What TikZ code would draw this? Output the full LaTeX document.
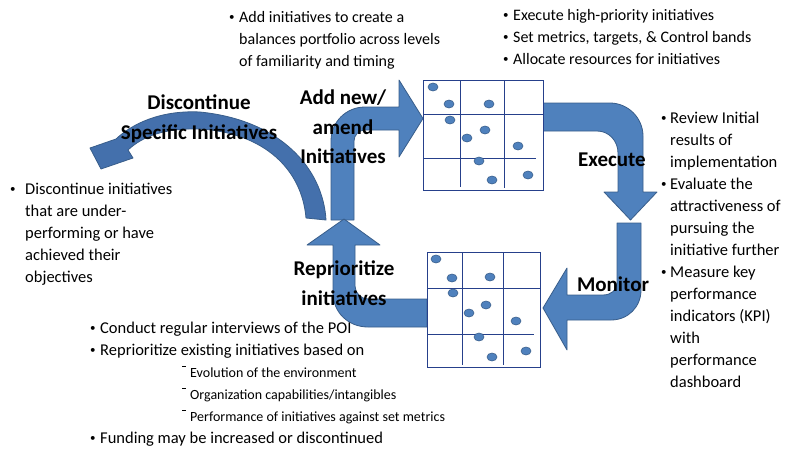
\documentclass[tikz,border=0pt]{standalone}
\usepackage{fontspec}
\setmainfont{Carlito}
\usetikzlibrary{shapes.geometric}
\definecolor{arrowblue}{RGB}{79,129,189}
\definecolor{arrowedge}{RGB}{56,93,138}
\definecolor{curveblue}{RGB}{68,112,172}
\definecolor{gridblue}{RGB}{38,64,139}
\newcommand{\pbul}[1][10pt]{\makebox[#1][l]{\raisebox{0.12em}{\fontsize{11}{11}\selectfont\textbullet}}}
\newcommand{\psubline}[1]{\hspace*{82pt}\makebox[8pt][l]{\raisebox{0.62em}{\rule{4pt}{0.8pt}}}{\fontsize{14}{22}\selectfont #1}}
\begin{document}
\begin{tikzpicture}[x=1pt,y=-1pt,
    block_arrow/.style={fill=arrowblue,draw=arrowedge,line width=0.8pt,line join=round},
    grid_box/.style={draw=gridblue,fill=white,line width=1pt,inner sep=0pt},
    grid_line/.style={draw=gridblue,line width=1pt},
    grid_dot/.style={ellipse,fill=arrowblue,draw=arrowedge,line width=0.6pt,minimum width=10pt,minimum height=8pt,inner sep=0pt},
    step_label/.style={font=\fontsize{21}{29.5}\selectfont\bfseries,align=center,inner sep=0pt},
    bullet_text/.style={font=\fontsize{16.5}{22}\selectfont,inner sep=0pt,anchor=base west}]
    \useasboundingbox (0,0) rectangle (794,450);

    % block arrows of the cycle
    \draw[block_arrow] (331,220) -- (331,141) .. controls (331,122) and (346,107) .. (365,107) -- (399,107) -- (399,80) -- (423,118.5) -- (399,157) -- (399,130) -- (365,130) .. controls (359,130) and (354,135) .. (354,141) -- (354,220) -- cycle;
    \draw[block_arrow] (543,103) -- (610,103) .. controls (628,103) and (643,118) .. (643,136) -- (643,192) -- (657,192) -- (630.5,220) -- (604,192) -- (618,192) -- (618,153) .. controls (618,141) and (609,131) .. (597,131) -- (543,131) -- cycle;
    \draw[block_arrow] (617,223) -- (641,223) -- (641,290) .. controls (641,307) and (628,320) .. (611,320) -- (567,320) -- (567,350) -- (543,308) -- (567,268) -- (567,295) -- (603,295) .. controls (611,295) and (617,290) .. (617,283) -- cycle;
    \draw[block_arrow] (427,299) -- (368,299) .. controls (361,299) and (355,293) .. (355,286) -- (355,245) -- (380,245) -- (344,219) -- (307,245) -- (333,245) -- (333,293) .. controls (333,312) and (348,327) .. (368,327) -- (427,327) -- cycle;
    % curved arrow
    \draw[block_arrow,fill=curveblue] (326,220) .. controls (323,168) and (280,120) .. (200,112) .. controls (160,110) and (132,124) .. (116,139) -- (90,148) -- (101,169) -- (133,158) -- (128,150) .. controls (143,136) and (165,128) .. (200,129) .. controls (265,133) and (302,170) .. (306,218) -- cycle;

    % portfolio grids
    \node[grid_box,minimum width=120pt,minimum height=110pt] (top_grid) at (483,135) {};
    \draw[grid_line] (460,80) -- (460,187) (504,80) -- (504,188) (423,114) -- (543,114) (423,158) -- (536,158);
    \foreach \dx/\dy [count=\i] in {433/87,449/104,489/104,450/120,485/130,467/138,518/146,479/161,492/180,528/175}
        \node[grid_dot] (top_dot\i) at (\dx,\dy) {};
    \node[grid_box,minimum width=113pt,minimum height=115pt] (bot_grid) at (483.5,309.5) {};
    \draw[grid_line] (462,252) -- (462,365) (503,252) -- (503,365) (427,288) -- (540,288) (427,334) -- (534,334);
    \foreach \dx/\dy [count=\i] in {436/259,452/278,490/277,453/293,486/305,469/313,516/321,479/337,492/357,526/351}
        \node[grid_dot] (bot_dot\i) at (\dx,\dy) {};

    % step labels
    \node[step_label] (add_lbl) at (343,127) {Add new/\\amend\\Initiatives};
    \node[step_label] (disc_lbl) at (199,119) {Discontinue\\Specific Initiatives};
    \node[step_label] (exec_lbl) at (612,160) {Execute};
    \node[step_label] (mon_lbl) at (613,284) {Monitor};
    \node[step_label] (repr_lbl) at (344,283) {Reprioritize\\initiatives};

    % bullet texts
    \node[bullet_text,font=\fontsize{16}{22}\selectfont] (add_txt) at (229,22) {\begin{tabular}[t]{@{}l@{}l@{}}
        \pbul & Add initiatives to create a\\
        & balances portfolio across levels\\
        & of familiarity and timing
    \end{tabular}};
    \node[bullet_text,font=\fontsize{16}{22}\selectfont] (exec_txt) at (503,20) {\begin{tabular}[t]{@{}l@{}l@{}}
        \pbul & Execute high-priority initiatives\\
        \pbul & Set metrics, targets, \& Control bands\\
        \pbul & Allocate resources for initiatives
    \end{tabular}};
    \node[bullet_text] (mon_txt) at (661,123) {\begin{tabular}[t]{@{}l@{}l@{}}
        \pbul[9pt] & Review Initial\\
        & results of\\
        & implementation\\
        \pbul[9pt] & Evaluate the\\
        & attractiveness of\\
        & pursuing the\\
        & initiative further\\
        \pbul[9pt] & Measure key\\
        & performance\\
        & indicators (KPI)\\
        & with\\
        & performance\\
        & dashboard
    \end{tabular}};
    \node[bullet_text] (disc_txt) at (10,194) {\begin{tabular}[t]{@{}l@{}l@{}}
        \pbul[15pt] & Discontinue initiatives\\
        & that are under-\\
        & performing or have\\
        & achieved their\\
        & objectives
    \end{tabular}};
    \node[bullet_text] (repr_txt) at (90,333) {\begin{tabular}[t]{@{}l@{}l@{}}
        \pbul & Conduct regular interviews of the POI\\
        \pbul & Reprioritize existing initiatives based on\\
        & \psubline{Evolution of the environment}\\
        & \psubline{Organization capabilities/intangibles}\\
        & \psubline{Performance of initiatives against set metrics}\\
        \pbul & Funding may be increased or discontinued
    \end{tabular}};
\end{tikzpicture}
\end{document}
